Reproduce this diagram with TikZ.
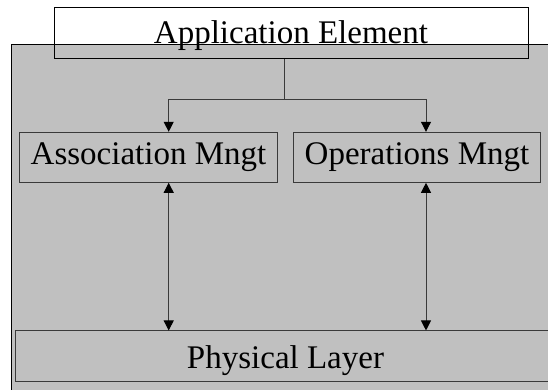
\documentclass[tikz,border=0pt]{standalone}
\usepackage{fontspec}
\setmainfont{Liberation Serif}
\usetikzlibrary{arrows.meta}
\definecolor{panelgray}{HTML}{C0C0C0}
\definecolor{edgegray}{HTML}{3A3A3A}
\tikzset{
    layer-box/.style = {draw=edgegray, line width=1pt, rectangle, inner sep=0pt, font=\fontsize{33}{33}\selectfont},
    layer-label/.style = {anchor=base, inner sep=0pt, font=\fontsize{33}{33}\selectfont},
    link-arrow/.style = {draw=edgegray, line width=1pt, -{Triangle[length=10pt,width=10pt,color=black]}},
    both-arrow/.style = {draw=edgegray, line width=1pt, {Triangle[length=10pt,width=10pt,color=black]}-{Triangle[length=10pt,width=10pt,color=black]}},
}

\begin{document}
\begin{tikzpicture}[x=1pt,y=-1pt]
\useasboundingbox (0,0) rectangle (548,389);
\clip (0,0) rectangle (548,389);
% gray panel behind the management layer
\filldraw[fill=panelgray, draw=black, line width=1pt] (11.3,44.5) rectangle (600,420);
\node[layer-box, draw=black, minimum width=473.6pt, minimum height=51pt] (app) at (291.5,32.8) {};
\node[layer-label] (app-text) at (291,43.5) {Application Element};
\node[layer-box, minimum width=258.4pt, minimum height=50pt] (assoc) at (148.5,157.3) {Association Mngt};
\node[layer-box, minimum width=247.4pt, minimum height=50pt] (ops) at (417,157.3) {Operations Mngt};
\node[layer-box, anchor=west, minimum width=600pt, minimum height=50.7pt] (phys) at (15.3,356.3) {};
\node[layer-label] (phys-text) at (285.5,368.3) {Physical Layer};
% fork from the application element
\coordinate (fork) at (284.7,99);
\coordinate (left-col) at (168.7,99);
\coordinate (right-col) at (426,99);
\draw[edgegray, line width=1pt] (app.south -| fork) -- (fork);
\draw[link-arrow] (fork) -- (left-col) -- (assoc.north -| left-col);
\draw[link-arrow] (fork) -- (right-col) -- (ops.north -| right-col);
% links down to the physical layer
\draw[both-arrow] (assoc.south -| left-col) -- (phys.north -| left-col);
\draw[both-arrow] (ops.south -| right-col) -- (phys.north -| right-col);
\end{tikzpicture}
\end{document}
